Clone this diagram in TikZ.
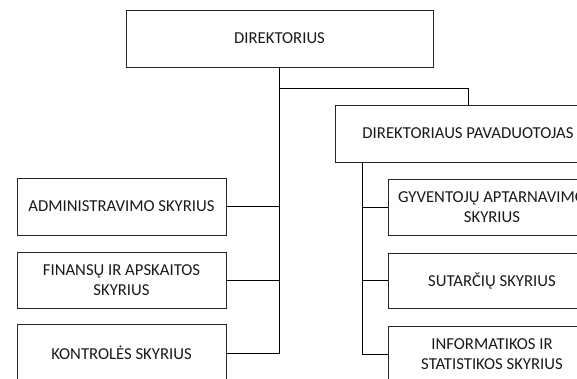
\documentclass[tikz,border=0pt]{standalone}
\usepackage{fontspec}
\setmainfont{Carlito}
\begin{document}
\begin{tikzpicture}[x=1pt,y=-1pt,
  unit/.style={draw=black!85, line width=0.8pt, inner sep=0pt, outer sep=0pt,
    align=center, font=\fontsize{16.7}{20}\selectfont, text=black!90},
  link/.style={draw=black, line width=0.9pt}]
\path[use as bounding box, clip] (0,0) rectangle (577,378);
\node[unit, minimum width=307, minimum height=57] (dir) at (279.5,38.5) {DIREKTORIUS};
\node[unit, minimum width=266, minimum height=57] (pav) at (468,133.5) {DIREKTORIAUS PAVADUOTOJAS};
\node[unit, minimum width=209, minimum height=57] (adm) at (121.5,206.5) {ADMINISTRAVIMO SKYRIUS};
\node[unit, minimum width=209, minimum height=56] (fin) at (121.5,280) {FINANSŲ IR APSKAITOS\\SKYRIUS};
\node[unit, minimum width=209, minimum height=57] (kon) at (121.5,353) {KONTROLĖS SKYRIUS};
\node[unit, minimum width=208, minimum height=56] (gyv) at (492,207) {GYVENTOJŲ APTARNAVIMO\\SKYRIUS};
\node[unit, minimum width=208, minimum height=55] (sut) at (492,280.5) {SUTARČIŲ SKYRIUS};
\node[unit, minimum width=208, minimum height=56] (inf) at (492,354) {INFORMATIKOS IR\\STATISTIKOS SKYRIUS};
\coordinate (j) at (279.5,88);
\coordinate (pt) at (362,162);
\draw[link] (dir.south) |- (kon.east);
\draw[link] (adm.east) -- (adm.east -| dir.south);
\draw[link] (fin.east) -- (fin.east -| dir.south);
\draw[link] (j) -| (pav.north);
\draw[link] (pt) |- (inf.west);
\draw[link] (gyv.west) -- (gyv.west -| pt);
\draw[link] (sut.west) -- (sut.west -| pt);
\end{tikzpicture}
\end{document}
